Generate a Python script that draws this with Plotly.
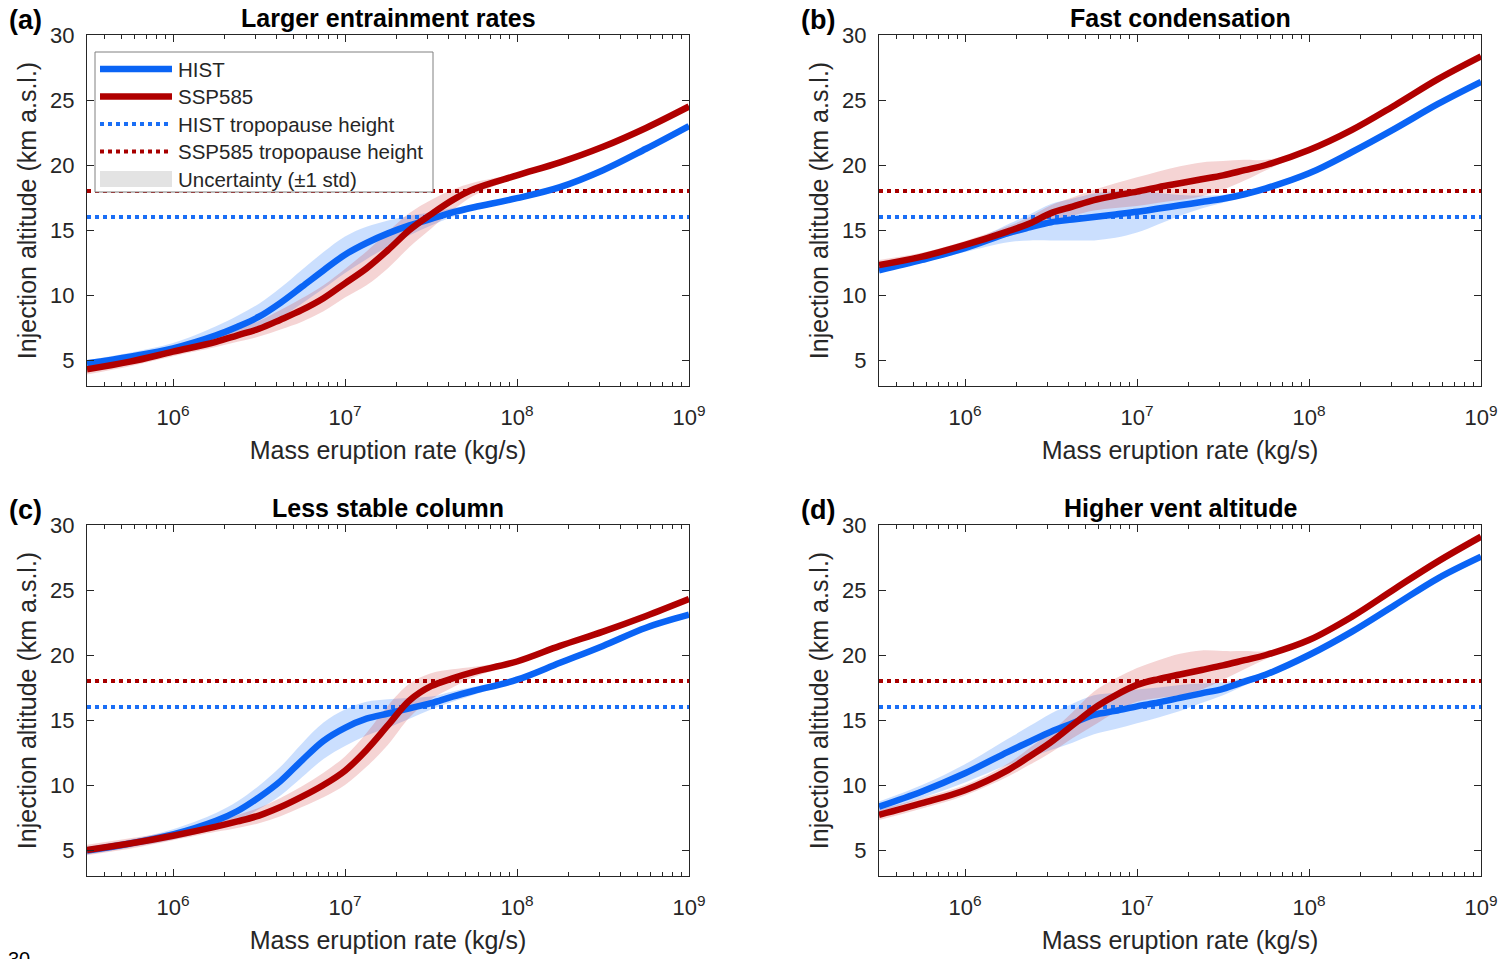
import plotly.graph_objects as go

# ---------------- data ----------------
mer_exp = [5.5, 5.75, 6.0, 6.25, 6.375, 6.5, 6.625, 6.75, 6.875, 7.0, 7.125,
           7.25, 7.375, 7.5, 7.625, 7.75, 8.0, 8.25, 8.5, 8.75, 9.0]
mer = [10 ** e for e in mer_exp]

panel_titles = ["Larger entrainment rates", "Fast condensation",
                "Less stable column", "Higher vent altitude"]
panel_letters = ["(a)", "(b)", "(c)", "(d)"]
legend_labels = ["HIST", "SSP585", "HIST tropopause height",
                 "SSP585 tropopause height", "Uncertainty (\u00b11 std)"]

hist_a = [4.74, 5.26, 5.9, 6.9, 7.56, 8.33, 9.4, 10.64, 11.9, 13.1, 14.0,
          14.74, 15.35, 15.85, 16.35, 16.75, 17.45, 18.3, 19.6, 21.25, 23.0]
ssp_a = [4.28, 4.87, 5.64, 6.4, 6.9, 7.4, 8.1, 8.85, 9.75, 10.9, 12.05,
         13.46, 15.0, 16.2, 17.3, 18.15, 19.2, 20.2, 21.4, 22.85, 24.5]
hist_a_std = [0.25, 0.3, 0.4, 0.7, 0.85, 1.0, 1.15, 1.3, 1.4, 1.4, 1.25,
              1.0, 0.75, 0.5, 0.35, 0.2, 0.1, 0.1, 0.1, 0.1, 0.1]
ssp_a_std = [0.4, 0.35, 0.35, 0.4, 0.5, 0.6, 0.75, 0.9, 1.0, 1.1, 1.3,
             1.4, 1.3, 1.1, 0.8, 0.5, 0.15, 0.1, 0.1, 0.1, 0.1]

hist_b = [11.9, 12.7, 13.6, 14.75, 15.2, 15.6, 15.8, 16.0, 16.2, 16.4, 16.65,
          16.9, 17.15, 17.4, 17.75, 18.2, 19.36, 21.0, 22.8, 24.7, 26.4]
ssp_b = [12.3, 12.95, 13.85, 14.9, 15.5, 16.3, 16.8, 17.3, 17.65, 17.95, 18.3,
         18.6, 18.9, 19.2, 19.6, 20.0, 21.15, 22.7, 24.6, 26.6, 28.35]
hist_b_std = [0.2, 0.2, 0.3, 0.7, 1.0, 1.4, 1.6, 1.8, 1.8, 1.6, 1.2,
              0.8, 0.5, 0.3, 0.2, 0.15, 0.1, 0.1, 0.1, 0.1, 0.1]
ssp_b_std = [0.4, 0.3, 0.3, 0.4, 0.5, 0.6, 0.7, 0.8, 0.95, 1.1, 1.2,
             1.3, 1.3, 1.1, 0.8, 0.4, 0.1, 0.1, 0.1, 0.1, 0.1]

hist_c = [4.95, 5.5, 6.2, 7.25, 8.0, 9.05, 10.3, 11.9, 13.4, 14.4, 15.1,
          15.5, 15.9, 16.3, 16.8, 17.25, 18.1, 19.4, 20.7, 22.1, 23.1]
ssp_c = [5.0, 5.5, 6.1, 6.8, 7.2, 7.65, 8.3, 9.1, 10.0, 11.1, 12.7,
         14.6, 16.5, 17.6, 18.2, 18.7, 19.5, 20.7, 21.8, 23.0, 24.3]
hist_c_std = [0.3, 0.3, 0.4, 0.6, 0.75, 0.9, 1.1, 1.3, 1.4, 1.4, 1.3,
              1.1, 0.8, 0.5, 0.4, 0.3, 0.15, 0.1, 0.1, 0.1, 0.1]
ssp_c_std = [0.4, 0.4, 0.35, 0.4, 0.5, 0.6, 0.7, 0.8, 0.95, 1.1, 1.3,
             1.5, 1.3, 1.0, 0.7, 0.4, 0.15, 0.1, 0.1, 0.1, 0.1]

hist_d = [8.33, 9.5, 10.9, 12.55, 13.33, 14.1, 14.75, 15.4, 15.7, 16.05, 16.35,
          16.7, 17.05, 17.4, 17.95, 18.5, 20.0, 21.8, 23.85, 25.9, 27.56]
ssp_d = [7.7, 8.6, 9.6, 11.15, 12.2, 13.3, 14.6, 15.9, 16.9, 17.7, 18.15,
         18.5, 18.85, 19.2, 19.6, 20.0, 21.15, 22.95, 25.1, 27.2, 29.1]
hist_d_std = [0.4, 0.5, 0.7, 1.0, 1.2, 1.4, 1.5, 1.5, 1.4, 1.3, 1.15,
              1.0, 0.75, 0.5, 0.3, 0.2, 0.1, 0.1, 0.1, 0.1, 0.1]
ssp_d_std = [0.4, 0.4, 0.4, 0.5, 0.65, 0.8, 1.0, 1.3, 1.3, 1.3, 1.45,
             1.6, 1.5, 1.1, 0.7, 0.3, 0.1, 0.1, 0.1, 0.1, 0.1]

hist_tropopause = 16.0
ssp_tropopause = 18.0

x_tick_vals = [1e6, 1e7, 1e8, 1e9]
x_tick_text = ["10<sup>6</sup>", "10<sup>7</sup>", "10<sup>8</sup>", "10<sup>9</sup>"]
y_tick_vals = [5, 10, 15, 20, 25, 30]

panels = [
    (hist_a, ssp_a, hist_a_std, ssp_a_std),
    (hist_b, ssp_b, hist_b_std, ssp_b_std),
    (hist_c, ssp_c, hist_c_std, ssp_c_std),
    (hist_d, ssp_d, hist_d_std, ssp_d_std),
]
for p in panels:
    for arr in p:
        assert len(arr) == len(mer_exp), len(arr)

# ---------------- style ----------------
W, H = 1505, 959
FONT = "Liberation Sans, Arial, sans-serif"
TXT = "#262626"
BLUE = "#0A64F5"
RED = "#B00000"
BLUE_DOT = "#1A6EF5"
RED_DOT = "#A80000"
BLUE_BAND = "rgba(20,110,250,0.22)"
RED_BAND = "rgba(205,40,40,0.20)"
UNC_GREY = "#E3E3E3"
LW = 6.5

def px_x(p):
    return p / W

def px_y(p):
    return 1 - p / H

x_domains = [[px_x(87), px_x(689)], [px_x(879), px_x(1481)]]
y_domains = [[px_y(386), px_y(35)], [px_y(876), px_y(525)]]

minor_vals = [m * 10 ** k for k in range(5, 9) for m in range(2, 10)
              if 10 ** 5.5 < m * 10 ** k < 1e9]

fig = go.Figure()

for i, (hist, ssp, hstd, sstd) in enumerate(panels):
    ax = "" if i == 0 else str(i + 1)
    xa, ya = "x" + ax, "y" + ax
    # uncertainty bands
    for mean, std, col in ((hist, hstd, BLUE_BAND), (ssp, sstd, RED_BAND)):
        upper = [m + s for m, s in zip(mean, std)]
        lower = [m - s for m, s in zip(mean, std)]
        fig.add_trace(go.Scatter(
            x=mer + mer[::-1], y=upper + lower[::-1], fill="toself",
            fillcolor=col, line=dict(width=0, shape="spline", smoothing=1.0),
            mode="lines", hoverinfo="skip", xaxis=xa, yaxis=ya))
    # tropopause heights
    fig.add_trace(go.Scatter(
        x=[mer[0], mer[-1]], y=[hist_tropopause, hist_tropopause], mode="lines",
        name=legend_labels[2], line=dict(color=BLUE_DOT, width=4, dash="dot"),
        xaxis=xa, yaxis=ya))
    fig.add_trace(go.Scatter(
        x=[mer[0], mer[-1]], y=[ssp_tropopause, ssp_tropopause], mode="lines",
        name=legend_labels[3], line=dict(color=RED_DOT, width=4, dash="dot"),
        xaxis=xa, yaxis=ya))
    # main curves
    fig.add_trace(go.Scatter(
        x=mer, y=hist, mode="lines", name=legend_labels[0],
        line=dict(color=BLUE, width=LW, shape="spline", smoothing=1.0),
        xaxis=xa, yaxis=ya))
    fig.add_trace(go.Scatter(
        x=mer, y=ssp, mode="lines", name=legend_labels[1],
        line=dict(color=RED, width=LW, shape="spline", smoothing=1.0),
        xaxis=xa, yaxis=ya))

    col = i % 2
    row = i // 2
    common = dict(showline=True, linecolor=TXT, linewidth=1, mirror="ticks",
                  ticks="inside", tickcolor=TXT, ticklen=7, tickwidth=1,
                  showgrid=False, zeroline=False, automargin=False,
                  tickfont=dict(family=FONT, size=22, color=TXT))
    fig.layout["xaxis" + ax] = dict(
        common, type="log", range=[5.5, 9], domain=x_domains[col],
        anchor=ya, tickmode="array", tickvals=x_tick_vals, ticktext=x_tick_text,
        ticklabelstandoff=12,
        minor=dict(tickmode="array", tickvals=minor_vals, ticks="inside",
                   ticklen=4, tickcolor=TXT, showgrid=False),
        title=dict(text="Mass eruption rate (kg/s)", standoff=12,
                   font=dict(family=FONT, size=25, color=TXT)))
    fig.layout["yaxis" + ax] = dict(
        common, range=[3, 30], domain=y_domains[row], anchor=xa,
        tickmode="array", tickvals=y_tick_vals, ticklabelstandoff=7,
        title=dict(text="Injection altitude (km a.s.l.)", standoff=6,
                   font=dict(family=FONT, size=25, color=TXT)))

annotations = []
title_y = [px_y(18), px_y(508)]
letter_x = [px_x(25), px_x(818)]
for i in range(4):
    col, row = i % 2, i // 2
    annotations.append(dict(
        text="<b>" + panel_titles[i] + "</b>", xref="paper", yref="paper",
        x=sum(x_domains[col]) / 2, y=title_y[row], xanchor="center", yanchor="middle",
        showarrow=False, font=dict(family=FONT, size=25, color="#000000")))
    annotations.append(dict(
        text="<b>" + panel_letters[i] + "</b>", xref="paper", yref="paper",
        x=letter_x[col], y=title_y[row] - 0.002, xanchor="center", yanchor="middle",
        showarrow=False, font=dict(family=FONT, size=27, color="#000000")))
annotations.append(dict(
    text="30", xref="paper", yref="paper", x=px_x(6), y=px_y(946),
    xanchor="left", yanchor="top", showarrow=False,
    font=dict(family=FONT, size=20, color="#000000")))

# ---------------- legend box (panel a, MATLAB style) ----------------
LEG_L, LEG_R, LEG_T, LEG_B = 95, 433, 52, 192
ROW0, ROW_H = 69, 27.5
SAMPLE_L, SAMPLE_R, TEXT_X = 100, 172, 176
legend_styles = [
    dict(kind="line", color=BLUE, width=LW, dash="solid"),
    dict(kind="line", color=RED, width=LW, dash="solid"),
    dict(kind="line", color=BLUE_DOT, width=4, dash="dot"),
    dict(kind="line", color=RED_DOT, width=4, dash="dot"),
    dict(kind="box", color=UNC_GREY),
]
shapes = [dict(type="rect", xref="paper", yref="paper", layer="above",
               x0=px_x(LEG_L), x1=px_x(LEG_R), y0=px_y(LEG_B), y1=px_y(LEG_T),
               fillcolor="white", line=dict(color="#808080", width=1))]
for k, (label, st) in enumerate(zip(legend_labels, legend_styles)):
    yc = ROW0 + ROW_H * k
    if st["kind"] == "line":
        shapes.append(dict(type="line", xref="paper", yref="paper", layer="above",
                           x0=px_x(SAMPLE_L), x1=px_x(SAMPLE_R),
                           y0=px_y(yc), y1=px_y(yc),
                           line=dict(color=st["color"], width=st["width"],
                                     dash=st["dash"])))
    else:
        shapes.append(dict(type="rect", xref="paper", yref="paper", layer="above",
                           x0=px_x(SAMPLE_L), x1=px_x(SAMPLE_R),
                           y0=px_y(yc + 8), y1=px_y(yc - 8),
                           fillcolor=st["color"], line=dict(width=0)))
    annotations.append(dict(
        text=label, xref="paper", yref="paper", x=px_x(TEXT_X), y=px_y(yc),
        xanchor="left", yanchor="middle", showarrow=False,
        font=dict(family=FONT, size=20.5, color=TXT)))

fig.update_layout(
    width=W, height=H, margin=dict(l=0, r=0, t=0, b=0),
    paper_bgcolor="white", plot_bgcolor="white",
    font=dict(family=FONT, color=TXT),
    showlegend=False,
    annotations=annotations,
    shapes=shapes,
)

fig.write_html(
    "out.html",
    config={"displayModeBar": False},
    post_script="document.body.style.margin='0';document.body.style.overflow='hidden';")
